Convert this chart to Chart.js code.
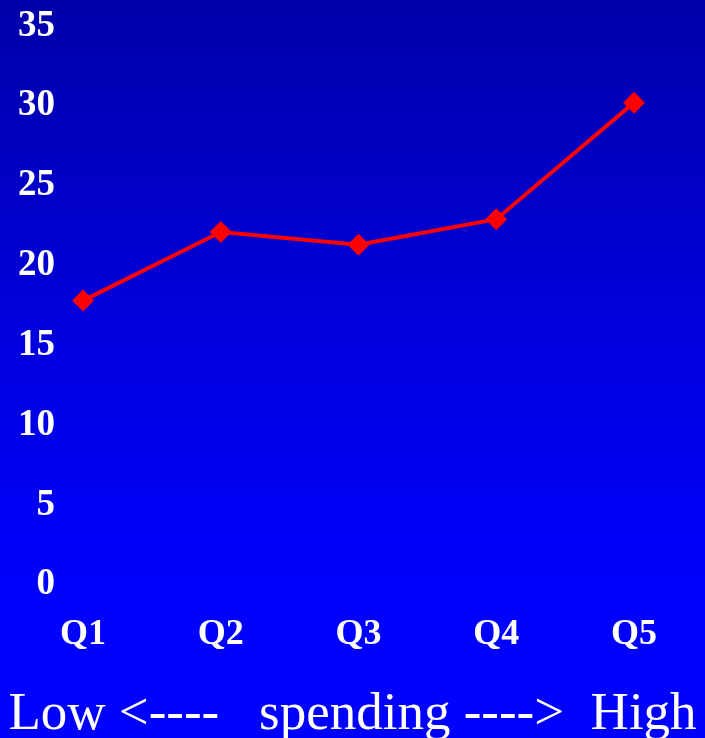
<!DOCTYPE html>
<html>
<head>
<meta charset="utf-8">
<script src="https://cdn.jsdelivr.net/npm/chart.js@4"></script>
<style>
  html, body { margin: 0; padding: 0; }
  body {
    width: 705px; height: 738px; overflow: hidden;
    background: linear-gradient(to bottom, #0000aa 0%, #0000dd 45%, #0000ff 80%, #0000ff 100%);
  }
  #wrap { width: 705px; height: 738px; }
</style>
</head>
<body>
<div id="wrap"><canvas id="chart"></canvas></div>
<script>
// quintiles of spending
const quintiles = ['Q1', 'Q2', 'Q3', 'Q4', 'Q5'];
const values = [17.8, 22.1, 21.3, 22.9, 30.2];
const yMin = 0, yMax = 35, yStep = 5;
const axisTitle = 'Low <----   spending ---->  High';

const serif = '"Liberation Serif", "Times New Roman", serif';

// caption under the x axis, drawn at full width (the scale title would squeeze it)
const captionPlugin = {
  id: 'caption',
  afterDraw(chart) {
    const ctx = chart.ctx;
    ctx.save();
    ctx.font = '53px ' + serif;
    ctx.fillStyle = '#ffffff';
    ctx.textAlign = 'center';
    ctx.textBaseline = 'alphabetic';
    ctx.fillText(axisTitle, chart.width / 2, chart.height - 9);
    ctx.restore();
  }
};

new Chart(document.getElementById('chart'), {
  type: 'line',
  data: {
    labels: quintiles,
    datasets: [{
      data: values,
      borderColor: '#ff0000',
      backgroundColor: '#ff0000',
      borderWidth: 4,
      pointStyle: 'rectRot',
      pointRadius: 11,
      pointHoverRadius: 11,
      pointBorderWidth: 0,
      tension: 0
    }]
  },
  plugins: [captionPlugin],
  options: {
    responsive: true,
    maintainAspectRatio: false,
    animation: false,
    layout: { autoPadding: false, padding: { left: 18, right: 71, top: 26, bottom: 62 } },
    plugins: { legend: { display: false }, tooltip: { enabled: false } },
    scales: {
      x: {
        offset: false,
        grid: { display: false },
        border: { display: false },
        ticks: {
          color: '#ffffff',
          padding: 20,
          font: { family: serif, size: 36, weight: 'bold' }
        }
      },
      y: {
        min: yMin,
        max: yMax,
        grid: { display: false },
        border: { display: false },
        afterFit(scale) {
          scale.width = 65;
          scale.paddingTop = 0;
          scale.paddingBottom = 0;
        },
        ticks: {
          stepSize: yStep,
          color: '#ffffff',
          padding: 20,
          font: { family: serif, size: 37, weight: 'bold' }
        }
      }
    }
  }
});
</script>
</body>
</html>
